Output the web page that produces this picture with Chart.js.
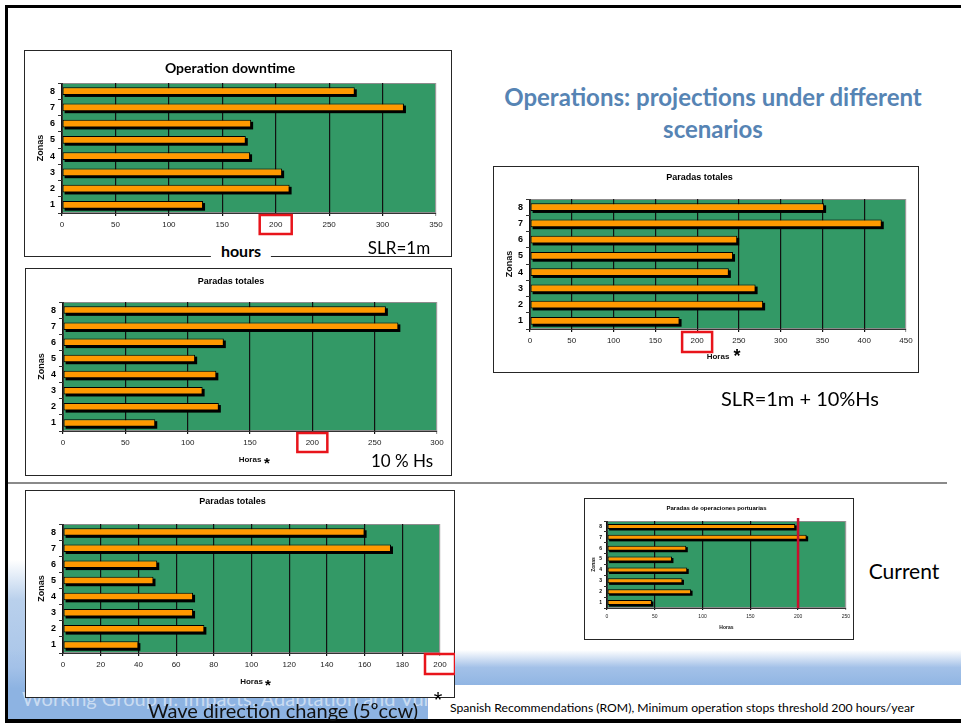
<!DOCTYPE html>
<html>
<head>
<meta charset="utf-8">
<script src="https://cdn.jsdelivr.net/npm/chart.js@4.4.0/dist/chart.umd.min.js"></script>
<style>
body{margin:0;width:961px;height:725px;position:relative;overflow:hidden;background:#fff;font-family:Lato,"Liberation Sans",sans-serif}
.abs{position:absolute}
.c{position:absolute;transform:translate(-50%,-50%);white-space:nowrap}
.box{position:absolute;border:1.5px solid #262626;background:#fff;box-sizing:border-box;overflow:visible}
.box canvas{position:absolute;left:-1.5px;top:-1.5px}
</style>
</head>
<body>
<!-- slide frame and background -->
<div class="abs" style="left:8px;top:560px;width:22px;height:160px;background:linear-gradient(#fff,#b9d0ec 25%,#9dbde6)"></div>
<div class="abs" style="left:8px;top:650px;width:953px;height:70px;background:linear-gradient(rgba(255,255,255,0),#a3c1e8 25%,#8db3e2 55%,#8db3e2)"></div>
<div class="abs" style="left:22px;top:686px;font-size:20px;color:rgba(255,255,255,.55);white-space:nowrap">Working Group II: Impacts, Adaptation and Vulnerability</div>
<div class="abs" style="left:428px;top:685px;width:533px;height:35px;background:#fff"></div>
<div class="abs" style="left:5px;top:5px;width:956px;height:3px;background:#000"></div>
<div class="abs" style="left:5px;top:5px;width:3px;height:717px;background:#000"></div>
<div class="abs" style="left:5px;top:719px;width:956px;height:4px;background:#000"></div>
<div class="abs" style="left:8px;top:482px;width:939px;height:2px;background:#8a8a8a"></div>

<div class="abs" style="left:463px;top:81px;width:500px;text-align:center;font-size:24px;font-weight:bold;line-height:32px;color:#5684b4">Operations: projections under different<br>scenarios</div>

<div class="box" style="left:24px;top:50px;width:428px;height:207px"><canvas id="c1" width="428" height="207"></canvas></div>
<div class="box" style="left:493px;top:166px;width:426px;height:207px"><canvas id="c2" width="426" height="207"></canvas></div>
<div class="box" style="left:25px;top:268px;width:427px;height:208px"><canvas id="c3" width="427" height="208"></canvas></div>
<div class="box" style="left:25px;top:490px;width:430px;height:208px"><canvas id="c4" width="430" height="208"></canvas></div>
<div class="box" style="left:584px;top:498px;width:270px;height:142px"><canvas id="c5" width="270" height="142"></canvas></div>

<div class="c" style="left:241px;top:250px;font-size:16px;font-weight:bold;background:#fff;padding:2px 10px">hours</div>
<div class="c" style="left:399px;top:247px;font-size:17px">SLR=1m</div>
<div class="c" style="left:737px;top:356px;font-size:18px;font-weight:bold;font-family:'Liberation Sans'">*</div>
<div class="c" style="left:800px;top:398px;font-size:20px">SLR=1m + 10%Hs</div>
<div class="c" style="left:267px;top:462px;font-size:15px;font-weight:bold;font-family:'Liberation Sans'">*</div>
<div class="c" style="left:402px;top:460px;font-size:17px">10 % Hs</div>
<div class="c" style="left:268px;top:684px;font-size:15px;font-weight:bold;font-family:'Liberation Sans'">*</div>
<div class="c" style="left:904px;top:570px;font-size:21px">Current</div>
<div class="c" style="left:283px;top:710px;font-size:20px;color:#111">Wave direction change (5ºccw)</div>
<div class="c" style="left:438px;top:700px;font-size:22px;font-family:'Liberation Sans'">*</div>
<div class="abs" style="left:450px;top:700px;font-size:12.2px;white-space:nowrap">Spanish Recommendations (ROM), Minimum operation stops threshold 200 hours/year</div>

<script>
const zonas = ['1', '2', '3', '4', '5', '6', '7', '8'];
// hours per zone, zone 1 first
const downtimeSLR1m = [132, 213, 206, 176, 172, 177, 320, 274];
const paradasSLRHs = [179, 279, 270, 238, 243, 248, 421, 352];
const paradasHs10 = [74, 125, 112, 123, 106, 129, 269, 259];
const paradasWave5 = [40, 75, 69, 69, 48, 50, 174, 160];
const paradasCurrent = [47, 88, 79, 84, 68, 83, 209, 197];
// axis ranges [max, step]
const axis1 = [350, 50];
const axis2 = [450, 50];
const axis3 = [300, 50];
const axis4 = [200, 20];
const axis5 = [250, 50];
const threshold = 200;

const slidePlugin = {
    id: 'slideMarks',
    beforeDraw(chart) {
        const a = chart.chartArea, ctx = chart.ctx;
        ctx.save();
        ctx.fillStyle = '#339966';
        ctx.fillRect(a.left, a.top, a.right - a.left, a.bottom - a.top);
        ctx.strokeStyle = '#8c8c8c';
        ctx.lineWidth = 1;
        ctx.strokeRect(a.left + 0.5, a.top + 0.5, a.right - a.left - 1, a.bottom - a.top - 1);
        ctx.restore();
    },
    beforeDatasetDraw(chart, args, opts) {
        const ctx = chart.ctx, d = opts.shadow;
        ctx.save();
        ctx.fillStyle = '#000';
        args.meta.data.forEach(bar => {
            const p = bar.getProps(['x', 'y', 'base', 'height'], true);
            const left = Math.min(p.x, p.base);
            ctx.fillRect(left + d, p.y - p.height / 2 + d, Math.abs(p.x - p.base), p.height);
        });
        ctx.restore();
    },
    afterDraw(chart, args, opts) {
        const ctx = chart.ctx, a = chart.chartArea;
        const x = chart.scales.x.getPixelForValue(threshold);
        ctx.save();
        ctx.strokeStyle = '#e8141b';
        if (opts.box) {
            ctx.lineWidth = 2.5;
            const [w, h, dy] = opts.box;
            ctx.strokeRect(x - w / 2, a.bottom + dy, w, h);
        }
        if (opts.line) {
            ctx.strokeStyle = '#c8102e';
            ctx.lineWidth = 2.5;
            ctx.beginPath();
            ctx.moveTo(x, a.top - 3);
            ctx.lineTo(x, a.bottom);
            ctx.stroke();
        }
        ctx.restore();
    }
};

function makeChart(id, values, range, c) {
    const canvas = document.getElementById(id);
    const H = canvas.height;
    const tlh = c.titleSize * 1.2;
    const xlh = c.xTitleSize * 1.2;
    const ylh = c.yTitleSize * 1.2;
    return new Chart(canvas, {
        type: 'bar',
        data: {
            labels: zonas,
            datasets: [{
                data: values,
                backgroundColor: '#ff9900',
                borderColor: '#000',
                borderWidth: 1,
                borderSkipped: false,
                barPercentage: 0.47,
                categoryPercentage: 1
            }]
        },
        options: {
            indexAxis: 'y',
            responsive: false,
            animation: false,
            layout: { padding: { left: 0, right: c.padR, top: 0, bottom: 0 } },
            plugins: {
                legend: { display: false },
                tooltip: { enabled: false },
                title: {
                    display: true,
                    text: c.title,
                    color: '#000',
                    font: { family: c.titleFamily, size: c.titleSize, weight: 'bold', lineHeight: 1.2 },
                    padding: { top: c.titleY - tlh / 2, bottom: c.plotTop - c.titleY - tlh / 2 }
                },
                slideMarks: { shadow: c.shadow, box: c.box, line: c.line }
            },
            scales: {
                x: {
                    min: 0,
                    max: range[0],
                    ticks: {
                        stepSize: range[1],
                        color: '#222',
                        maxRotation: 0,
                        autoSkip: false,
                        padding: c.tickPad,
                        font: { family: 'Liberation Sans', size: c.tickSize }
                    },
                    grid: {
                        color: ctx => ctx.tick && ctx.tick.value === range[0] ? '#9a9a9a' : '#111',
                        lineWidth: 1.2,
                        tickLength: c.tickLen
                    },
                    border: { color: '#333', width: 1 },
                    title: {
                        display: !!c.xTitle,
                        text: c.xTitle,
                        color: '#111',
                        font: { family: 'Liberation Sans', size: c.xTitleSize, weight: 'bold', lineHeight: 1.2 },
                        padding: { top: 0, bottom: H - c.xTitleY - xlh / 2 }
                    },
                    afterFit: s => { s.height = H - c.plotBottom; }
                },
                y: {
                    reverse: true,
                    ticks: {
                        color: '#000',
                        padding: c.yTickPad,
                        font: { family: 'Liberation Sans', size: c.yTickSize, weight: 'bold' }
                    },
                    grid: { offset: true, drawOnChartArea: false, tickLength: c.tickLen + 1, color: '#333' },
                    border: { color: '#333', width: 1 },
                    title: {
                        display: true,
                        text: 'Zonas',
                        color: '#111',
                        font: { family: 'Liberation Sans', size: c.yTitleSize, weight: 'bold', lineHeight: 1.2 },
                        padding: { top: c.zonasX - ylh / 2, bottom: 0 }
                    },
                    afterFit: s => { s.width = c.plotLeft; }
                }
            }
        },
        plugins: [slidePlugin]
    });
}

const big = { titleFamily: 'Liberation Sans', titleSize: 9, tickSize: 8, yTickSize: 9, tickPad: 4, yTickPad: 3, tickLen: 3,
    xTitleSize: 8, yTitleSize: 9, zonasX: 17, shadow: 2, plotTop: 33, plotBottom: 163 };

makeChart('c1', downtimeSLR1m, axis1, Object.assign({}, big, {
    title: 'Operation downtime', titleFamily: 'Lato', titleSize: 14, titleY: 18,
    plotLeft: 38, padR: 16, box: [32, 19, 2]
}));
makeChart('c2', paradasSLRHs, axis2, Object.assign({}, big, {
    title: 'Paradas totales', titleY: 12, plotLeft: 37, padR: 13,
    xTitle: 'Horas', xTitleY: 191, box: [30, 20, 3]
}));
makeChart('c3', paradasHs10, axis3, Object.assign({}, big, {
    title: 'Paradas totales', titleY: 14, plotLeft: 38, plotTop: 34, padR: 15,
    xTitle: 'Horas', xTitleY: 192, box: [30, 19, 2]
}));
makeChart('c4', paradasWave5, axis4, Object.assign({}, big, {
    title: 'Paradas totales', titleY: 12, plotLeft: 38, plotTop: 34, padR: 15,
    xTitle: 'Horas', xTitleY: 192, box: [30, 20, 1]
}));
makeChart('c5', paradasCurrent, axis5, {
    title: 'Paradas de operaciones portuarias', titleFamily: 'Liberation Sans', titleSize: 6, titleY: 10,
    tickSize: 5, yTickSize: 5, tickPad: 4, yTickPad: 2, tickLen: 2, xTitle: 'Horas', xTitleSize: 5, xTitleY: 130,
    yTitleSize: 5, zonasX: 10, shadow: 1.5, plotTop: 23, plotBottom: 110, plotLeft: 23, padR: 5, line: true
});
</script>
</body>
</html>
